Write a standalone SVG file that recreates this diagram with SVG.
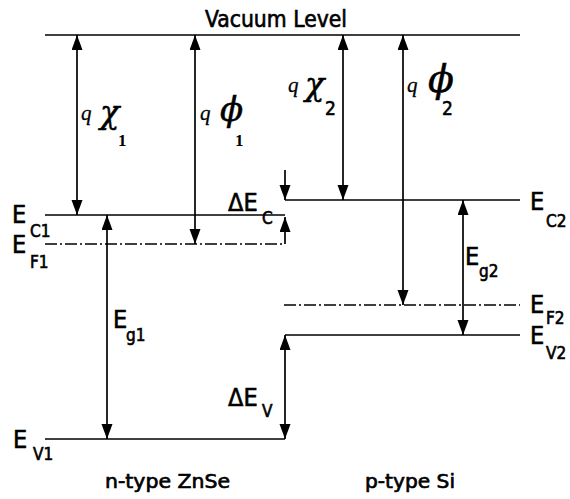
<svg xmlns="http://www.w3.org/2000/svg" width="570" height="499" viewBox="0 0 570 499">
<defs>
<marker id="ah" markerUnits="userSpaceOnUse" markerWidth="16" markerHeight="12" refX="15" refY="5.5" orient="auto-start-reverse">
<path d="M0,0 L15,5.5 L0,11 z" fill="#000"/>
</marker>
<style>
.lv{stroke:#000;stroke-width:1.7;fill:none}
.df{stroke:#000;stroke-width:1.7;fill:none;stroke-dasharray:12 3 2 3}
.ar{stroke:#000;stroke-width:1.7;fill:none}
.sa{font-family:"DejaVu Sans Condensed","DejaVu Sans",Verdana,sans-serif;fill:#000;stroke:#000;stroke-width:0.6}
.big{font-size:25px}
.sub{font-size:17px}
.q{font-family:"Liberation Serif","DejaVu Serif",serif;font-style:italic;font-size:21px;fill:#000;stroke:#000;stroke-width:0.3}
.gr{font-family:"DejaVu Serif","Liberation Serif",serif;font-style:italic;fill:#000;stroke:#000;stroke-width:0.5}
.n1{font-family:"Liberation Serif","DejaVu Serif",serif;font-weight:bold;font-size:17px;fill:#000}
</style>
</defs>
<rect width="570" height="499" fill="#fff"/>

<g id="levels">
<line class="lv" x1="45" y1="35" x2="520" y2="35"/>
<line class="lv" x1="45" y1="215" x2="285" y2="215"/>
<line class="df" x1="45" y1="244" x2="285" y2="244"/>
<line class="lv" x1="45" y1="439" x2="285" y2="439"/>
<line class="lv" x1="285" y1="200" x2="520" y2="200"/>
<line class="df" x1="284" y1="305" x2="520" y2="305"/>
<line class="lv" x1="285" y1="335" x2="520" y2="335"/>
</g>

<g id="connectors">
<line class="ar" x1="77" y1="35" x2="77" y2="215" marker-start="url(#ah)" marker-end="url(#ah)"/>
<line class="ar" x1="195" y1="35" x2="195" y2="244" marker-start="url(#ah)" marker-end="url(#ah)"/>
<line class="ar" x1="107" y1="215" x2="107" y2="439" marker-start="url(#ah)" marker-end="url(#ah)"/>
<line class="ar" x1="285" y1="170" x2="285" y2="200" marker-end="url(#ah)"/>
<line class="ar" x1="285" y1="244" x2="285" y2="217" marker-end="url(#ah)"/>
<line class="ar" x1="343" y1="35" x2="343" y2="200" marker-start="url(#ah)" marker-end="url(#ah)"/>
<line class="ar" x1="403" y1="35" x2="403" y2="305" marker-start="url(#ah)" marker-end="url(#ah)"/>
<line class="ar" x1="463" y1="200" x2="463" y2="335" marker-start="url(#ah)" marker-end="url(#ah)"/>
<line class="ar" x1="285" y1="335" x2="285" y2="439" marker-start="url(#ah)" marker-end="url(#ah)"/>
</g>

<g id="vacuum-label"><text class="sa" x="205" y="27" font-size="23" textLength="142" lengthAdjust="spacingAndGlyphs">Vacuum Level</text></g>

<g id="chi1"><text class="q" x="81" y="120">q</text><text class="gr" x="100" y="123" font-size="32">χ</text><text class="n1" x="118" y="146">1</text></g>
<g id="phi1"><text class="q" x="200" y="120">q</text><text class="gr" x="220" y="121" font-size="34">ϕ</text><text class="n1" x="235" y="146">1</text></g>
<g id="chi2"><text class="q" x="288" y="92">q</text><text class="gr" x="305" y="95" font-size="32">χ</text><text class="sa" x="325" y="115" font-size="19">2</text></g>
<g id="phi2"><text class="q" x="407" y="92">q</text><text class="gr" x="428" y="92" font-size="38">ϕ</text><text class="sa" x="442" y="115" font-size="19">2</text></g>

<g id="EC1"><text class="sa big" x="12" y="223">E</text><text class="sa sub" x="30" y="237">C1</text></g>
<g id="EF1"><text class="sa big" x="12" y="253">E</text><text class="sa sub" x="30" y="268">F1</text></g>
<g id="EV1"><text class="sa big" x="13" y="448">E</text><text class="sa sub" x="33" y="460">V1</text></g>
<g id="Eg1"><text class="sa big" x="113" y="328">E</text><text class="sa sub" x="126" y="341">g1</text></g>
<g id="dEC"><text class="sa big" x="228" y="211">ΔE</text><text class="sa sub" x="262" y="224">C</text></g>
<g id="dEV"><text class="sa big" x="228" y="406">ΔE</text><text class="sa sub" x="262" y="417">V</text></g>
<g id="EC2"><text class="sa big" x="530" y="210">E</text><text class="sa sub" x="546" y="227">C2</text></g>
<g id="Eg2"><text class="sa big" x="465" y="265">E</text><text class="sa sub" x="479" y="277">g2</text></g>
<g id="EF2"><text class="sa big" x="530" y="313">E</text><text class="sa sub" x="546" y="324">F2</text></g>
<g id="EV2"><text class="sa big" x="530" y="344">E</text><text class="sa sub" x="546" y="359">V2</text></g>

<g id="captions">
<text class="sa" x="105" y="488" font-size="19" stroke-width="0.3" textLength="125" lengthAdjust="spacingAndGlyphs">n-type ZnSe</text>
<text class="sa" x="365" y="488" font-size="19" stroke-width="0.3" textLength="90" lengthAdjust="spacingAndGlyphs">p-type Si</text>
</g>
</svg>
